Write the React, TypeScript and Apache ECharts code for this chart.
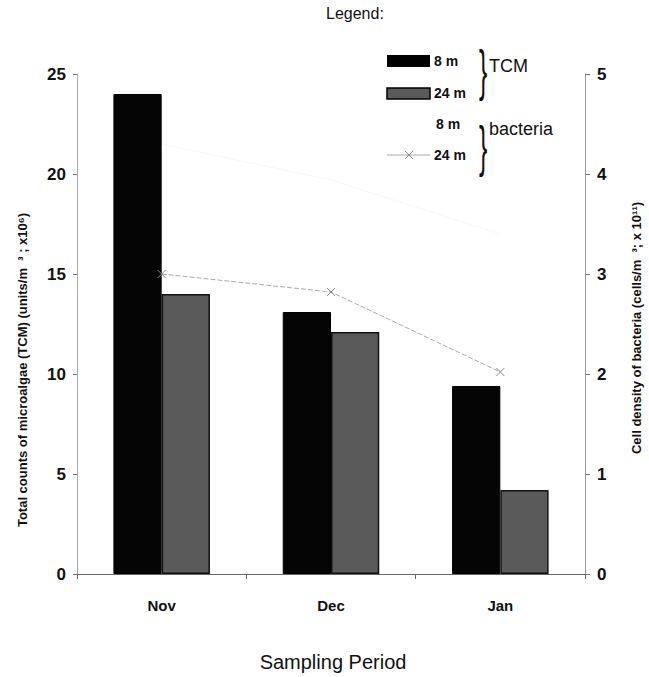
import React, { useEffect, useRef } from "react";
import * as echarts from "echarts";

const categories = ["Nov", "Dec", "Jan"];
const tcm8m = [24.0, 13.1, 9.4];
const tcm24m = [14.0, 12.1, 4.2];
const bacteria8m = [4.3, 3.94, 3.4];
const bacteria24m = [3.0, 2.82, 2.02];
const leftTicks = [0, 5, 10, 15, 20, 25];
const rightTicks = [0, 1, 2, 3, 4, 5];

const FONT = "'Liberation Sans', Arial, sans-serif";

export default function App() {
  const ref = useRef<HTMLDivElement>(null);
  useEffect(() => {
    if (!ref.current) return;
    const chart = echarts.init(ref.current, undefined, { renderer: "svg" });
    const legendX = 387;
    const legendLabel = (x: number, y: number, text: string) => ({
      type: "text",
      x,
      y,
      style: { text, fontSize: 14, fontWeight: "bold", fill: "#111", verticalAlign: "middle", fontFamily: FONT },
    });
    chart.setOption({
      animation: false,
      backgroundColor: "#ffffff",
      textStyle: { fontFamily: FONT },
      grid: { left: 77, right: 64, top: 74, bottom: 103 },
      xAxis: {
        type: "category",
        data: categories,
        axisLine: { lineStyle: { color: "#666", width: 1 } },
        axisTick: { show: true, length: 5, lineStyle: { color: "#666" } },
        axisLabel: { color: "#111", fontSize: 15, fontWeight: "bold", margin: 24, fontFamily: FONT },
      },
      yAxis: [
        {
          type: "value",
          min: leftTicks[0],
          max: leftTicks[leftTicks.length - 1],
          interval: 5,
          splitLine: { show: false },
          axisLine: { show: true, lineStyle: { color: "#aaa", width: 1 } },
          axisTick: { show: true, length: 4, lineStyle: { color: "#777" } },
          axisLabel: { color: "#111", fontSize: 17, fontWeight: "bold", margin: 11, fontFamily: FONT },
        },
        {
          type: "value",
          min: rightTicks[0],
          max: rightTicks[rightTicks.length - 1],
          interval: 1,
          position: "right",
          splitLine: { show: false },
          axisLine: { show: true, lineStyle: { color: "#999", width: 1 } },
          axisTick: { show: true, length: 5, lineStyle: { color: "#777" } },
          axisLabel: { color: "#111", fontSize: 17, fontWeight: "bold", margin: 12, fontFamily: FONT },
        },
      ],
      series: [
        {
          name: "TCM 8 m",
          type: "bar",
          data: tcm8m,
          barGap: "0%",
          barCategoryGap: "43%",
          itemStyle: { color: "#050505", borderColor: "#000", borderWidth: 1 },
        },
        {
          name: "TCM 24 m",
          type: "bar",
          data: tcm24m,
          itemStyle: { color: "#5a5a5a", borderColor: "#111", borderWidth: 1.5 },
        },
        {
          name: "bacteria 8 m",
          type: "line",
          yAxisIndex: 1,
          data: bacteria8m,
          symbol: "none",
          lineStyle: { color: "#f7f7f7", width: 1 },
          z: 1,
        },
        {
          name: "bacteria 24 m",
          type: "line",
          yAxisIndex: 1,
          data: bacteria24m,
          symbol: "path://M0,0L10,10M10,0L0,10",
          symbolSize: 8,
          itemStyle: { color: "none", borderColor: "#888", borderWidth: 1 },
          lineStyle: { color: "#aaa", width: 1, type: [5, 2] },
          z: 5,
        },
      ],
      graphic: [
        {
          type: "text",
          left: 326,
          top: 5,
          style: { text: "Legend:", fontSize: 16, fill: "#111", fontFamily: FONT },
        },
        { type: "rect", shape: { x: legendX, y: 55, width: 43, height: 12 }, style: { fill: "#000" } },
        {
          type: "rect",
          shape: { x: legendX, y: 88, width: 43, height: 11 },
          style: { fill: "#5a5a5a", stroke: "#000", lineWidth: 1.5 },
        },
        {
          type: "line",
          shape: { x1: legendX, y1: 155, x2: legendX + 43, y2: 155 },
          style: { stroke: "#aaa", lineWidth: 1 },
        },
        {
          type: "line",
          shape: { x1: legendX + 18, y1: 151, x2: legendX + 26, y2: 159 },
          style: { stroke: "#888", lineWidth: 1 },
        },
        {
          type: "line",
          shape: { x1: legendX + 26, y1: 151, x2: legendX + 18, y2: 159 },
          style: { stroke: "#888", lineWidth: 1 },
        },
        legendLabel(434, 61, "8 m"),
        legendLabel(434, 93, "24 m"),
        legendLabel(436, 124, "8 m"),
        legendLabel(434, 155, "24 m"),
        {
          type: "text",
          x: 479,
          y: 70,
          scaleX: 0.5,
          scaleY: 1.1,
          style: { text: "}", fontSize: 50, fill: "#111", verticalAlign: "middle", fontFamily: FONT },
        },
        {
          type: "text",
          x: 489,
          y: 66,
          style: { text: "TCM", fontSize: 18, fill: "#111", verticalAlign: "middle", fontFamily: FONT },
        },
        {
          type: "text",
          x: 479,
          y: 146,
          scaleX: 0.5,
          scaleY: 1.1,
          style: { text: "}", fontSize: 50, fill: "#111", verticalAlign: "middle", fontFamily: FONT },
        },
        {
          type: "text",
          x: 489,
          y: 129,
          style: { text: "bacteria", fontSize: 18, fill: "#111", verticalAlign: "middle", fontFamily: FONT },
        },
        {
          type: "text",
          x: 22,
          y: 370,
          rotation: Math.PI / 2,
          style: {
            text: "Total counts of microalgae (TCM) (units/m  ³ ; x10⁶)",
            fontSize: 13,
            fontWeight: "bold",
            fill: "#111",
            align: "center",
            verticalAlign: "middle",
            fontFamily: FONT,
          },
        },
        {
          type: "text",
          x: 636,
          y: 328,
          rotation: Math.PI / 2,
          style: {
            text: "Cell density of bacteria (cells/m  ³; x 10¹¹)",
            fontSize: 13,
            fontWeight: "bold",
            fill: "#111",
            align: "center",
            verticalAlign: "middle",
            fontFamily: FONT,
          },
        },
        {
          type: "text",
          x: 333,
          y: 662,
          style: {
            text: "Sampling Period",
            fontSize: 20,
            fill: "#111",
            align: "center",
            verticalAlign: "middle",
            fontFamily: FONT,
          },
        },
      ],
    });
    return () => chart.dispose();
  }, []);
  return <div ref={ref} style={{ width: 649, height: 677, position: "absolute", left: 0, top: 0 }} />;
}
